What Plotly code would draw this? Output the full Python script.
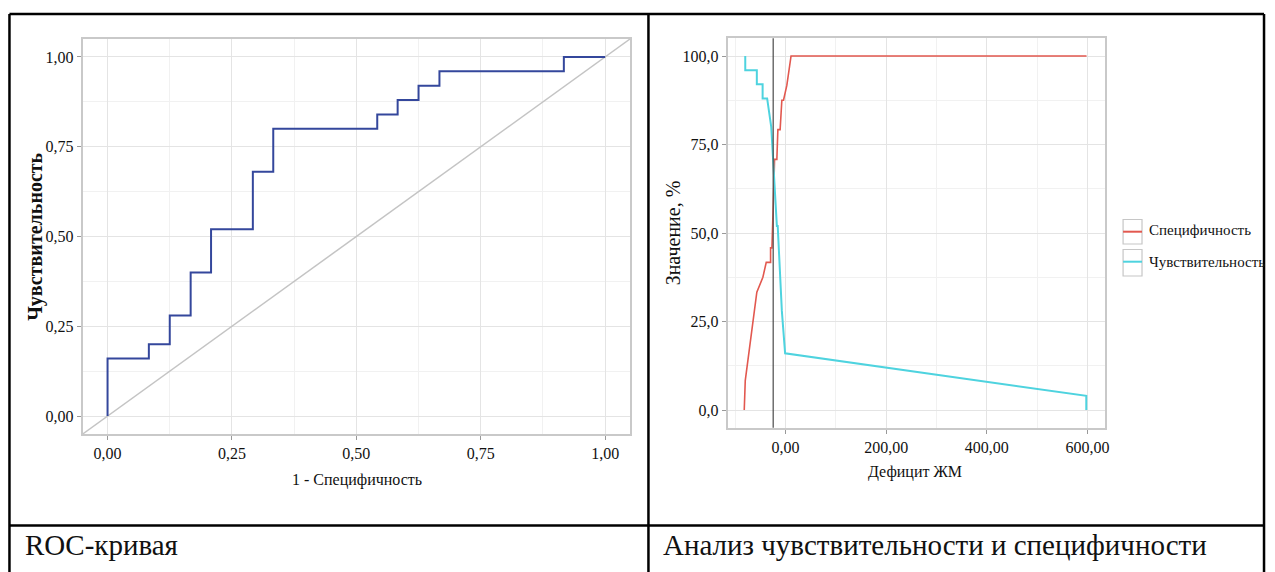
import plotly.graph_objects as go

W, H = 1275, 572

# ROC curve: 1 - specificity vs sensitivity
roc_fpr = [0.0, 0.0, 0.083, 0.083, 0.125, 0.125, 0.167, 0.167, 0.208, 0.208,
           0.292, 0.292, 0.333, 0.333, 0.542, 0.542, 0.583, 0.583, 0.625, 0.625,
           0.667, 0.667, 0.917, 0.917, 1.0]
roc_tpr = [0.0, 0.16, 0.16, 0.20, 0.20, 0.28, 0.28, 0.40, 0.40, 0.52,
           0.52, 0.68, 0.68, 0.80, 0.80, 0.84, 0.84, 0.88, 0.88, 0.92,
           0.92, 0.96, 0.96, 1.0, 1.0]
ref_line = [-0.05, 1.05]

# Sensitivity / specificity against the FM deficit threshold
spec_x = [-82, -80, -57, -45, -38.3, -29.7, -29.7, -27, -22.5, -21.8, -17.2,
          -15.2, -10.7, -9, -7.3, -4, 2.6, 11, 598]
spec_y = [0, 8.3, 33.3, 37.5, 41.7, 41.7, 45.8, 45.8, 66.7, 70.8, 70.8,
          79.2, 79.2, 83.3, 87.5, 87.5, 91.7, 100, 100]
sens_x = [-80, -80, -57, -57, -45.5, -45.5, -36.5, -31.7, -28.4, -17.2,
          -15.5, -7.3, -2, -0.8, 597.5, 597.5]
sens_y = [100, 96, 96, 92, 92, 88, 88, 84, 80, 52,
          52, 28, 20, 16, 4, 0]
cutoff = -24.5

series_names = ["Специфичность", "Чувствительность"]
captions = ["ROC-кривая", "Анализ чувствительности и специфичности"]

RED = "#e2584f"
CYAN = "#4ed3df"
BLUE = "#34479c"
FONT = "Liberation Serif"


def px(x):
    return x / W


def py(y):
    return 1 - y / H


fig = go.Figure()

fig.add_trace(go.Scatter(x=ref_line, y=ref_line, mode="lines",
                         line=dict(color="#c4c4c4", width=1.5),
                         xaxis="x", yaxis="y", showlegend=False, hoverinfo="skip"))
fig.add_trace(go.Scatter(x=roc_fpr, y=roc_tpr, mode="lines",
                         line=dict(color=BLUE, width=2),
                         xaxis="x", yaxis="y", showlegend=False))

fig.add_trace(go.Scatter(x=spec_x, y=spec_y, mode="lines", name=series_names[0],
                         line=dict(color=RED, width=1.6),
                         xaxis="x2", yaxis="y2", showlegend=False))
fig.add_trace(go.Scatter(x=sens_x, y=sens_y, mode="lines", name=series_names[1],
                         line=dict(color=CYAN, width=2),
                         xaxis="x2", yaxis="y2", showlegend=False))

axis_common = dict(
    showline=True, mirror=True, linecolor="#c9c9c9", linewidth=2,
    showgrid=True, gridcolor="#e4e4e4", gridwidth=1,
    zeroline=False, ticks="outside", ticklen=4, tickcolor="#999999",
    tickfont=dict(family=FONT, size=16, color="#111111"),
)

fig.update_layout(
    width=W, height=H,
    margin=dict(l=0, r=0, t=0, b=0),
    paper_bgcolor="white", plot_bgcolor="white",
    separators=", ",
    font=dict(family=FONT, color="#111111"),
    xaxis=dict(axis_common, domain=[px(83), px(632.5)], range=[-0.05, 1.05],
               tick0=0, dtick=0.25, tickformat=".2f", anchor="y",
               minor=dict(dtick=0.125, showgrid=True, gridcolor="#f1f1f1")),
    yaxis=dict(axis_common, domain=[py(434), py(39)], range=[-0.05, 1.05],
               tick0=0, dtick=0.25, tickformat=".2f", anchor="x",
               minor=dict(dtick=0.125, showgrid=True, gridcolor="#f1f1f1")),
    xaxis2=dict(axis_common, domain=[px(730.5), px(1109)], range=[-115, 634],
                tick0=0, dtick=200, tickformat=".2f", anchor="y2",
                minor=dict(dtick=100, showgrid=True, gridcolor="#f1f1f1")),
    yaxis2=dict(axis_common, domain=[py(427.7), py(38.3)], range=[-5, 105],
                tick0=0, dtick=25, tickformat=".1f", anchor="x2",
                minor=dict(dtick=12.5, showgrid=True, gridcolor="#f1f1f1")),
)

shapes = []
# cutoff marker on the threshold chart
shapes.append(dict(type="line", xref="x2", yref="y2 domain", x0=cutoff, x1=cutoff,
                   y0=0, y1=1, line=dict(color="#4a4a4a", width=1.2)))

# table borders
tbl = dict(color="black", width=2.5)
shapes += [
    dict(type="line", xref="paper", yref="paper", x0=px(9.5), x1=px(1269),
         y0=py(14), y1=py(14), line=tbl),
    dict(type="line", xref="paper", yref="paper", x0=px(9.5), x1=px(1269),
         y0=py(525.5), y1=py(525.5), line=tbl),
    dict(type="line", xref="paper", yref="paper", x0=px(9.5), x1=px(9.5),
         y0=py(14), y1=0, line=tbl),
    dict(type="line", xref="paper", yref="paper", x0=px(651), x1=px(651),
         y0=py(14), y1=0, line=tbl),
    dict(type="line", xref="paper", yref="paper", x0=px(1269), x1=px(1269),
         y0=py(14), y1=0, line=tbl),
]

# legend keys with framed swatches
legend_rows = [(219.5, 244, 231.7, RED), (249.5, 276, 261.7, CYAN)]
for (top, bot, mid, col) in legend_rows:
    shapes.append(dict(type="rect", xref="paper", yref="paper",
                       x0=px(1127.5), x1=px(1146.5), y0=py(bot), y1=py(top),
                       line=dict(color="#c6c6c6", width=1.2), fillcolor="white"))
    shapes.append(dict(type="line", xref="paper", yref="paper",
                       x0=px(1127.5), x1=px(1146.5), y0=py(mid), y1=py(mid),
                       line=dict(color=col, width=2)))

fig.update_layout(shapes=shapes)

annotations = [
    dict(text="<b>Чувствительность</b>", x=px(35), y=py(237), textangle=-90,
         font=dict(size=20)),
    dict(text="1 - Специфичность", x=px(358), y=py(480), font=dict(size=16)),
    dict(text="Значение, %", x=px(676), y=py(233), textangle=-90,
         font=dict(size=20)),
    dict(text="Дефицит ЖМ", x=px(919), y=py(472), font=dict(size=16)),
    dict(text=series_names[0], x=px(1151.5), y=py(230.5), xanchor="left",
         font=dict(size=15)),
    dict(text=series_names[1], x=px(1151.5), y=py(261.5), xanchor="left",
         font=dict(size=15)),
    dict(text=captions[0], x=px(23), y=py(545), xanchor="left", font=dict(size=29)),
    dict(text=captions[1], x=px(664), y=py(545), xanchor="left", font=dict(size=29)),
]
for a in annotations:
    a.setdefault("xanchor", "center")
    a.update(xref="paper", yref="paper", yanchor="middle", showarrow=False)
    a["font"] = dict(family=FONT, color="#111111", **a["font"])
fig.update_layout(annotations=annotations)

fig.write_html("out.html")
